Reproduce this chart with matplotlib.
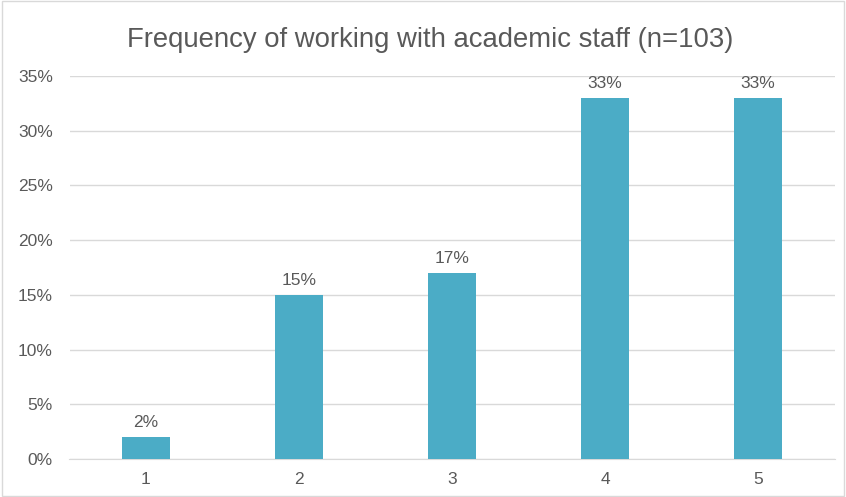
import matplotlib
matplotlib.use("Agg")
import matplotlib.pyplot as plt
from matplotlib.patches import Rectangle
from matplotlib.ticker import FuncFormatter

categories = ["1", "2", "3", "4", "5"]
values = [2, 15, 17, 33, 33]
yticks = [0, 5, 10, 15, 20, 25, 30, 35]

plt.rcParams['font.family'] = ['Liberation Sans', 'DejaVu Sans']
text_color = "#595959"
bar_color = "#4BACC6"
grid_color = "#D9D9D9"

fig = plt.figure(figsize=(8.46, 4.97), dpi=100)
ax = fig.add_axes([69.5/846, 1 - 459/497, (834.5-69.5)/846, (459-76)/497])

x = list(range(len(categories)))
bars = ax.bar(x, values, width=0.31, color=bar_color, zorder=3)
for xi, v in zip(x, values):
    ax.annotate(f"{v}%", (xi, v), xytext=(0, 5), textcoords="offset points",
                ha="center", va="bottom", fontsize=12.5, color=text_color)

ax.set_xlim(-0.5, len(categories) - 0.5)
ax.set_ylim(0, 35)
ax.set_yticks(yticks)
ax.yaxis.set_major_formatter(FuncFormatter(lambda v, p: f"{v:.0f}%"))
ax.set_xticks(x)
ax.set_xticklabels(categories)
ax.tick_params(axis="both", length=0, labelsize=12.5, colors=text_color)
ax.tick_params(axis="y", pad=12)
ax.tick_params(axis="x", pad=9)
ax.grid(axis="y", color=grid_color, linewidth=1, zorder=0)
for s in ["top", "right", "left"]:
    ax.spines[s].set_visible(False)
ax.spines["bottom"].set_color(grid_color)

fig.text(430.5/846, 1 - 40/497, "Frequency of working with academic staff (n=103)",
         ha="center", va="center", fontsize=19.8, color=text_color)

fig.patches.append(Rectangle((0.002, 0.003), 0.996, 0.994, transform=fig.transFigure,
                             fill=False, edgecolor="#D9D9D9", linewidth=1))

fig.savefig("out.png", dpi=100)
